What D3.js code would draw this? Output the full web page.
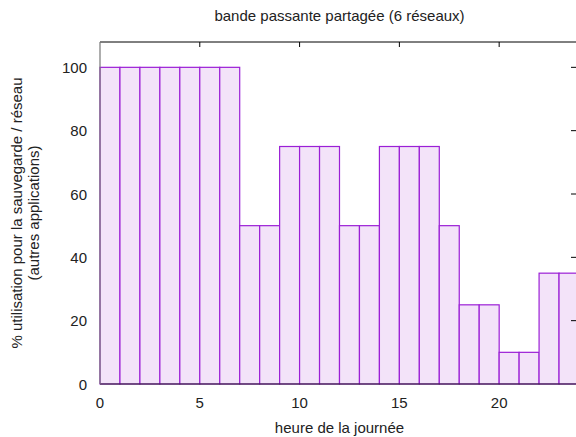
<!DOCTYPE html>
<html>
<head>
<meta charset="utf-8">
<script src="https://cdn.jsdelivr.net/npm/d3@7"></script>
<style>
  body { margin: 0; background: #fff; }
  text { font-family: "Liberation Sans", Arial, sans-serif; fill: #222; }
</style>
</head>
<body>
<div id="chart"></div>
<script>
// Bande passante partagée - histogramme par heure
const hours = d3.range(0, 24);
const usage = [100, 100, 100, 100, 100, 100, 100, 50, 50, 75, 75, 75, 50, 50,
               75, 75, 75, 50, 25, 25, 10, 10, 35, 35];
const xTicks = [0, 5, 10, 15, 20];
const yTicks = [0, 20, 40, 60, 80, 100];

const W = 576, H = 437;
const margin = { top: 42, right: -3, bottom: 53, left: 100 },
      width = W - margin.left - margin.right,
      height = H - margin.top - margin.bottom;

const svg = d3.select("#chart")
  .append("svg")
  .attr("width", W)
  .attr("height", H);

const g = svg.append("g")
  .attr("transform", `translate(${margin.left},${margin.top})`);

const x = d3.scaleLinear().domain([0, 24]).range([0, width]);
const y = d3.scaleLinear().domain([0, 108]).range([height, 0]);

// Bars
g.selectAll("rect.bar")
  .data(hours)
  .join("rect")
  .attr("class", "bar")
  .attr("x", d => x(d))
  .attr("y", d => y(usage[d]))
  .attr("width", d => x(d + 1) - x(d))
  .attr("height", d => y(0) - y(usage[d]))
  .attr("fill", "#f3e3f9")
  .attr("stroke", "#9b1fd6")
  .attr("stroke-width", 1.2);

// Frame
g.append("line").attr("x1", 0).attr("x2", width).attr("y1", 0).attr("y2", 0)
  .attr("stroke", "#000").attr("stroke-width", 1);
g.append("line").attr("x1", 0).attr("x2", width).attr("y1", height).attr("y2", height)
  .attr("stroke", "#222").attr("stroke-width", 1.2);
g.append("line").attr("x1", 0).attr("x2", 0).attr("y1", 0).attr("y2", height)
  .attr("stroke", "#777").attr("stroke-width", 1.2);
g.append("line").attr("x1", width).attr("x2", width).attr("y1", 0).attr("y2", height)
  .attr("stroke", "#000").attr("stroke-width", 1);

// Mirror ticks (inward)
g.selectAll("line.tt")
  .data(xTicks.filter(d => d > 0))
  .join("line")
  .attr("x1", d => x(d)).attr("x2", d => x(d))
  .attr("y1", 0).attr("y2", 5)
  .attr("stroke", "#000");
g.selectAll("line.rt")
  .data(yTicks.filter(d => d > 0))
  .join("line")
  .attr("x1", width).attr("x2", width - 8)
  .attr("y1", d => y(d)).attr("y2", d => y(d))
  .attr("stroke", "#000");

// Tick labels
g.selectAll("text.xl")
  .data(xTicks)
  .join("text")
  .attr("x", d => x(d))
  .attr("y", height + 24)
  .attr("text-anchor", "middle")
  .attr("font-size", 15)
  .text(d => d);
g.selectAll("text.yl")
  .data(yTicks)
  .join("text")
  .attr("x", -13)
  .attr("y", d => y(d) + 5.5)
  .attr("text-anchor", "end")
  .attr("font-size", 15)
  .text(d => d);

// Titles
const cx = (margin.left + W - margin.right) / 2;
svg.append("text")
  .attr("x", cx).attr("y", 21)
  .attr("text-anchor", "middle")
  .attr("font-size", 15)
  .text("bande passante partagée (6 réseaux)");
svg.append("text")
  .attr("x", cx).attr("y", 433)
  .attr("text-anchor", "middle")
  .attr("font-size", 15)
  .text("heure de la journée");

const cy = margin.top + height / 2;
const yl = svg.append("text")
  .attr("transform", `translate(22,${cy}) rotate(-90)`)
  .attr("text-anchor", "middle")
  .attr("font-size", 15);
yl.append("tspan").attr("x", 0).attr("dy", 0).text("% utilisation pour la sauvegarde / réseau");
yl.append("tspan").attr("x", 0).attr("dy", 17).text("(autres applications)");
</script>
</body>
</html>
